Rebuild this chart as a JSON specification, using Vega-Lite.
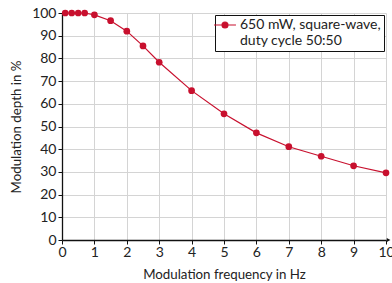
{
  "$schema": "https://vega.github.io/schema/vega-lite/v6.json",
  "width": 324,
  "height": 227,
  "autosize": {"type": "none"},
  "padding": {"left": 62, "top": 13, "right": 6, "bottom": 43},
  "config": {
    "font": "Lato",
    "view": {"stroke": null},
    "axis": {
      "labelFont": "Lato", "titleFont": "Lato",
      "labelFontSize": 14, "titleFontSize": 13.3, "titleFontWeight": "normal",
      "labelColor": "#222", "titleColor": "#222",
      "gridColor": "#d4d4d4", "gridWidth": 1,
      "domainColor": "#111", "domainWidth": 1.3,
      "tickColor": "#111", "tickSize": 4,
      "labelOverlap": false, "labelFlush": false
    }
  },
  "data": {"values": [
    {"f": 0.1, "d": 100, "s": "650 mW, square-wave, duty cycle 50:50"},
    {"f": 0.3, "d": 100, "s": "650 mW, square-wave, duty cycle 50:50"},
    {"f": 0.5, "d": 100, "s": "650 mW, square-wave, duty cycle 50:50"},
    {"f": 0.7, "d": 100, "s": "650 mW, square-wave, duty cycle 50:50"},
    {"f": 1, "d": 99.2, "s": "650 mW, square-wave, duty cycle 50:50"},
    {"f": 1.5, "d": 96.6, "s": "650 mW, square-wave, duty cycle 50:50"},
    {"f": 2, "d": 92, "s": "650 mW, square-wave, duty cycle 50:50"},
    {"f": 2.5, "d": 85.5, "s": "650 mW, square-wave, duty cycle 50:50"},
    {"f": 3, "d": 78.3, "s": "650 mW, square-wave, duty cycle 50:50"},
    {"f": 4, "d": 65.8, "s": "650 mW, square-wave, duty cycle 50:50"},
    {"f": 5, "d": 55.6, "s": "650 mW, square-wave, duty cycle 50:50"},
    {"f": 6, "d": 47.2, "s": "650 mW, square-wave, duty cycle 50:50"},
    {"f": 7, "d": 41.1, "s": "650 mW, square-wave, duty cycle 50:50"},
    {"f": 8, "d": 36.9, "s": "650 mW, square-wave, duty cycle 50:50"},
    {"f": 9, "d": 32.7, "s": "650 mW, square-wave, duty cycle 50:50"},
    {"f": 10, "d": 29.6, "s": "650 mW, square-wave, duty cycle 50:50"}
  ]},
  "encoding": {
    "x": {"field": "f", "type": "quantitative", "scale": {"domain": [0, 10], "nice": false},
          "axis": {"title": "Modulation frequency in Hz", "values": [0,1,2,3,4,5,6,7,8,9,10], "labelPadding": 1, "titlePadding": 8}},
    "y": {"field": "d", "type": "quantitative", "scale": {"domain": [0, 100], "nice": false},
          "axis": {"title": "Modulation depth in %", "values": [0,10,20,30,40,50,60,70,80,90,100], "labelPadding": 2, "titlePadding": 8}}
  },
  "layer": [
    {
      "mark": {"type": "line", "strokeWidth": 1.2, "color": "#c8102e"},
      "encoding": {
        "color": {"field": "s", "type": "nominal", "scale": {"range": ["#c8102e"]},
          "legend": {
            "title": null, "orient": "top-right", "offset": 2,
            "labelExpr": "['650 mW, square-wave,', 'duty cycle 50:50']",
            "labelFont": "Lato", "labelFontSize": 14, "labelColor": "#222", "labelLimit": 300,
            "labelOffset": 8,
            "strokeColor": "#111", "fillColor": "white", "padding": 3,
            "symbolType": "M-2,0L2,0M-0.55,0a0.55,0.55 0 1,0 1.1,0a0.55,0.55 0 1,0 -1.1,0",
            "symbolSize": 120, "symbolStrokeWidth": 1.1, "symbolFillColor": "#c8102e"
          }}
      }
    },
    {
      "mark": {"type": "point", "filled": true, "size": 45, "opacity": 1, "color": "#c8102e"}
    },
    {
      "data": {"values": [{"f": 10.08, "d": 0}]},
      "mark": {"type": "point", "shape": "triangle-right", "filled": true, "size": 18, "opacity": 1, "color": "#111", "clip": false}
    }
  ]
}
